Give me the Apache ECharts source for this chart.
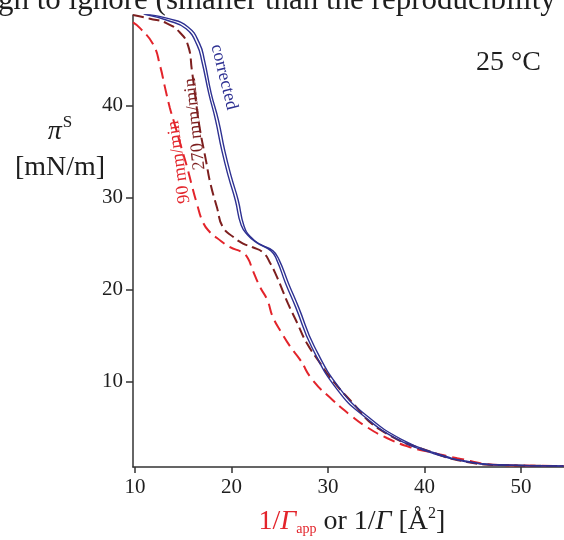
<!DOCTYPE html>
<html>
<head>
<meta charset="utf-8">
<script src="https://cdn.jsdelivr.net/npm/echarts@6/dist/echarts.min.js"></script>
<style>
  html, body { margin: 0; padding: 0; background: #fff; }
  #chart { width: 564px; height: 540px; }
</style>
</head>
<body>
<div id="chart"></div>
<script>
// Surface pressure isotherms at 25 °C: [area per molecule (Å²), π (mN/m)]
const correctedOuter = [[11.0,49.9],[13.5,49.4],[15.5,48.5],[16.7,46.7],[17.2,44.9],[17.9,41.3],[18.65,38.4],[19.3,35.1],[20.0,32.2],[20.7,29.7],[21.3,26.9],[22.0,25.7],[23.0,24.9],[24.3,24.2],[24.95,23.2],[25.9,20.7],[26.95,18.1],[28.6,13.8],[31.35,9.1],[34.15,6.2],[37.6,3.75],[41.0,2.3],[44.5,1.35],[47.9,0.98],[54.4,0.86]];
const correctedInner = [[10.9,49.9],[13.4,49.2],[15.3,48.3],[16.45,46.5],[16.95,44.7],[17.65,41.3],[18.35,38.4],[19.0,35.1],[19.7,32.2],[20.4,29.7],[21.0,27.0],[21.7,25.9],[22.6,25.1],[24.1,24.2],[24.7,23.2],[25.6,20.7],[26.65,18.1],[28.3,13.8],[31.0,9.1],[33.8,6.2],[37.3,3.7],[40.8,2.25],[44.3,1.3],[47.8,0.96],[54.4,0.85]];
const rate270 = [[9.8,49.8],[11.55,49.4],[13.3,48.9],[14.66,47.9],[15.5,46.5],[15.9,43.8],[16.3,40.6],[16.7,37.6],[17.36,34.0],[17.8,31.6],[18.5,28.9],[19.1,26.8],[20.2,25.7],[21.2,25.0],[22.2,24.6],[23.3,24.0],[24.0,22.9],[24.7,21.4],[25.3,19.9],[25.85,18.5],[26.8,16.4],[27.8,14.2],[29.2,12.0],[30.2,10.5],[32.3,8.0],[35.4,4.8],[40.9,2.3],[44.4,1.3],[47.8,0.96],[54.4,0.86]];
const rate90 = [[9.8,49.0],[10.5,48.4],[11.9,46.6],[12.6,44.3],[13.1,42.0],[13.6,39.8],[14.1,38.0],[14.9,35.1],[15.4,33.3],[15.9,31.3],[16.4,29.4],[17.05,27.3],[17.8,26.2],[18.5,25.6],[19.85,24.6],[21.1,24.05],[21.7,23.4],[22.2,22.1],[22.95,20.3],[23.7,18.9],[24.3,17.0],[25.2,15.3],[26.1,13.8],[27.1,12.4],[28.4,10.2],[30.5,8.0],[32.3,6.4],[34.0,5.1],[36.1,3.9],[38.5,2.9],[40.9,2.3],[43.4,1.7],[47.8,0.96],[54.4,0.86]];

const xTicks = [10, 20, 30, 40, 50];
const yTicks = [10, 20, 30, 40];

const BLUE = '#2e3192';
const DARK_RED = '#7d1f1f';
const RED = '#e3242b';
const INK = '#1e1e1e';
const SERIF = '"Liberation Serif", "DejaVu Serif", serif';

const chart = echarts.init(document.getElementById('chart'), null, { renderer: 'canvas' });

function curve(name, data, color, width, dash) {
  return {
    name, type: 'line', data,
    showSymbol: false, smooth: 0.5,
    lineStyle: { color, width, type: dash || 'solid' },
    z: dash ? 2 : 3
  };
}

chart.setOption({
  animation: false,
  backgroundColor: '#fff',
  grid: { left: 133, right: 0, top: 15, bottom: 73 },
  xAxis: {
    type: 'value', min: 9.8, max: 54.45,
    axisLine: { show: true, lineStyle: { color: '#333', width: 1.5 } },
    axisTick: { show: true, length: 6, customValues: xTicks, lineStyle: { color: '#333', width: 1.5 } },
    axisLabel: { customValues: xTicks, margin: 10, fontSize: 21, fontFamily: SERIF, color: INK },
    splitLine: { show: false }
  },
  yAxis: {
    type: 'value', min: 0.75, max: 49.8,
    axisLine: { show: true, lineStyle: { color: '#333', width: 1.5 } },
    axisTick: { show: true, length: 7, customValues: yTicks, lineStyle: { color: '#333', width: 1.5 } },
    axisLabel: { customValues: yTicks, margin: 10, fontSize: 21, fontFamily: SERIF, color: INK },
    splitLine: { show: false }
  },
  series: [
    curve('90 mm/min', rate90, RED, 2, [12, 6]),
    curve('270 mm/min', rate270, DARK_RED, 2, [11, 5]),
    curve('corrected', correctedInner, BLUE, 1.4),
    curve('corrected', correctedOuter, BLUE, 1.4)
  ],
  graphic: [
    { type: 'text', x: -2, y: 1, style: { text: 'gh to ignore (smaller than the reproducibility', font: '31px ' + SERIF, fill: INK, align: 'left', verticalAlign: 'middle' } },
    { type: 'text', x: 476, y: 63, style: { text: '25 °C', font: '28px ' + SERIF, fill: INK, align: 'left', verticalAlign: 'middle' } },
    { type: 'text', x: 60, y: 130, style: {
        text: '{p|π}{s|S}', align: 'center', verticalAlign: 'middle',
        rich: {
          p: { font: 'italic 28px ' + SERIF, fill: INK, verticalAlign: 'bottom' },
          s: { font: '17px ' + SERIF, fill: INK, verticalAlign: 'top', padding: [0, 0, 14, 1] }
        } } },
    { type: 'text', x: 60, y: 168, style: { text: '[mN/m]', font: '28px ' + SERIF, fill: INK, align: 'center', verticalAlign: 'middle' } },
    { type: 'text', x: 352, y: 522, style: {
        text: '{ri|1/}{rg|Γ}{rs|app}{k| or 1/}{kg|Γ}{k| [Å}{sup|2}{k|]}', align: 'center', verticalAlign: 'middle',
        rich: {
          ri: { font: '28px ' + SERIF, fill: RED },
          rg: { font: 'italic 28px ' + SERIF, fill: RED },
          rs: { font: '14px ' + SERIF, fill: RED, padding: [15, 0, 0, 0] },
          k: { font: '28px ' + SERIF, fill: INK },
          kg: { font: 'italic 28px ' + SERIF, fill: INK },
          sup: { font: '16px ' + SERIF, fill: INK, padding: [0, 0, 16, 0] }
        } } },
    { type: 'text', x: 224, y: 77, rotation: -76 * Math.PI / 180, style: { text: 'corrected', font: '18px ' + SERIF, fill: BLUE, align: 'center', verticalAlign: 'middle' } },
    { type: 'text', x: 195, y: 124, rotation: 96 * Math.PI / 180, style: { text: '270 mm/min', font: '18px ' + SERIF, fill: DARK_RED, align: 'center', verticalAlign: 'middle' } },
    { type: 'text', x: 179, y: 162, rotation: 98 * Math.PI / 180, style: { text: '90 mm/min', font: '18px ' + SERIF, fill: RED, align: 'center', verticalAlign: 'middle' } }
  ]
});
</script>
</body>
</html>
